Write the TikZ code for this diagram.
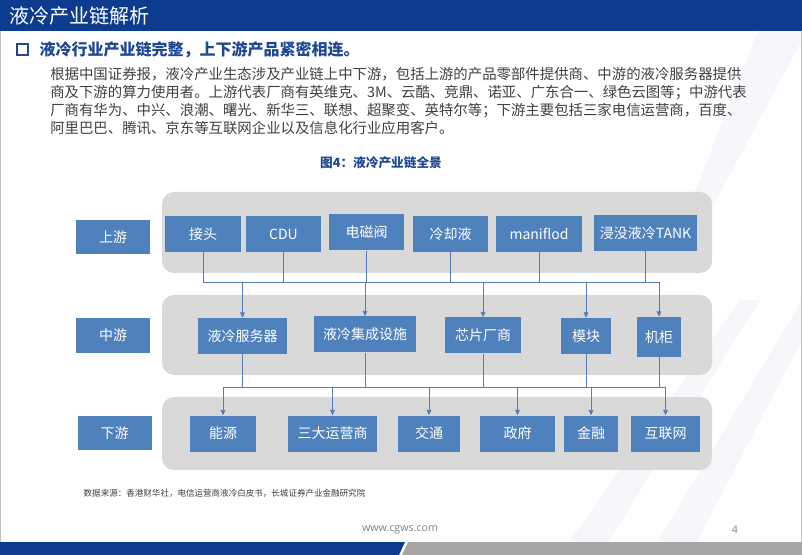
\documentclass[tikz,border=0pt]{standalone}
\usepackage{fontspec}
\setmainfont{Noto Sans CJK SC}
\newfontfamily\footfont{Open Sans}
\usetikzlibrary{arrows.meta}
\definecolor{titleblue}{RGB}{13,60,142}
\definecolor{subblue}{RGB}{30,72,150}
\definecolor{boxblue}{RGB}{79,129,189}
\definecolor{panelgray}{RGB}{217,217,217}
\definecolor{linkblue}{RGB}{84,122,190}
\definecolor{bandgray}{RGB}{246,247,251}
\definecolor{textgray}{RGB}{64,64,64}
\begin{document}
\begin{tikzpicture}[x=0.75pt,y=-0.75pt,
    box/.style={fill=boxblue, text=white, inner sep=0pt, minimum height=27pt,
      font=\fontsize{10.5}{12}\selectfont},
    tag/.style={box, minimum width=55.5pt, minimum height=26pt},
    panel/.style={fill=panelgray, rounded corners=9pt},
    link/.style={draw=linkblue, line width=0.6pt},
    feed/.style={link, -{Triangle[length=4pt,width=3.5pt]}}]
  \useasboundingbox (0,0) rectangle (802,555);
  %page
  \fill[white] (0,0) rectangle (802,555);
  \fill[bandgray] (770,0) -- (802,0) -- (802,40) -- (700,230) -- (680,230) -- cycle;
  \fill[bandgray] (802,300) -- (802,340) -- (690,555) -- (650,555) -- cycle;
  \fill[bandgray] (560,555) -- (600,555) -- (760,300) -- (740,300) -- cycle;
  \draw[gray!50, line width=0.6pt] (0.4,0) -- (0.4,555) (801.6,0) -- (801.6,555);
  %title bar
  \fill[titleblue] (0,0) rectangle (802,31);
  \node[anchor=west, text=white, font=\fontsize{15}{17}\selectfont] (title) at (5,16) {液冷产业链解析};
  \draw[subblue, line width=1.6pt] (17,44) rectangle (28,55);
  \node[anchor=west, text=subblue, font=\bfseries\fontsize{12}{14}\selectfont] (head) at (35,50)
    {液冷行业产业链完整，上下游产品紧密相连。};
  \node[anchor=north west, align=left, text=textgray, inner sep=0pt,
    font=\fontsize{10.8}{13.6}\selectfont] (para) at (50,67)
    {根据中国证券报，液冷产业生态涉及产业链上中下游，包括上游的产品零部件提供商、中游的液冷服务器提供\\
     商及下游的算力使用者。上游代表厂商有英维克、3M、云酷、竞鼎、诺亚、广东合一、绿色云图等；中游代表\\
     厂商有华为、中兴、浪潮、曙光、新华三、联想、超聚变、英特尔等；下游主要包括三家电信运营商，百度、\\
     阿里巴巴、腾讯、京东等互联网企业以及信息化行业应用客户。};
  \node[text=subblue, font=\bfseries\fontsize{9.5}{11}\selectfont] (cap) at (381,163) {图4：液冷产业链全景};
  %panels
  \fill[panel] (162,192) rectangle (712,273);
  \fill[panel] (162,295) rectangle (712,375);
  \fill[panel] (162,397) rectangle (712,470);
  %upstream
  \node[tag] (up) at (113,237) {上游};
  \node[box, minimum width=57pt] (jietou) at (203,234) {接头};
  \node[box, minimum width=56.25pt] (cdu) at (283.5,234) {CDU};
  \node[box, minimum width=56.25pt] (dcf) at (366.5,232.5) {电磁阀};
  \node[box, minimum width=56.25pt] (ljy) at (450.5,234) {冷却液};
  \node[box, minimum width=64.5pt] (manifold) at (539,234) {maniflod};
  \node[box, minimum width=77.25pt] (tank) at (645.5,233) {浸没液冷TANK};
  %midstream
  \node[tag] (mid) at (113,335.5) {中游};
  \node[box, minimum width=66.75pt] (fwq) at (242.5,336) {液冷服务器};
  \node[box, minimum width=76.5pt] (jcss) at (365,334.5) {液冷集成设施};
  \node[box, minimum width=57pt] (xpcs) at (483,335.5) {芯片厂商};
  \node[box, minimum width=37.5pt] (mk) at (586,336) {模块};
  \node[box, minimum width=33pt, minimum height=30pt] (jg) at (659,337) {机柜};
  %downstream
  \node[tag] (down) at (114.5,433) {下游};
  \node[box, minimum width=49.5pt] (ny) at (223,433.5) {能源};
  \node[box, minimum width=66.75pt] (yys) at (332.5,433.5) {三大运营商};
  \node[box, minimum width=46.5pt] (jt) at (429,433.5) {交通};
  \node[box, minimum width=56.25pt] (zf) at (517.5,433.5) {政府};
  \node[box, minimum width=40.5pt] (jr) at (591,433.5) {金融};
  \node[box, minimum width=51.75pt] (hlw) at (665.5,433.5) {互联网};
  %buses
  \coordinate (busU) at (0,282);
  \coordinate (busD) at (0,387);
  \draw[link] (jietou |- busU) -- (jg |- busU);
  \foreach \n in {jietou,cdu,dcf,ljy,manifold,tank}
      \draw[link] (\n.south) -- (\n |- busU);
  \foreach \n in {fwq,jcss,xpcs,mk,jg}
      \draw[feed] (\n |- busU) -- (\n.north);
  \draw[link] (ny |- busD) -- (hlw |- busD);
  \foreach \n in {fwq,jcss,xpcs,mk,jg}
      \draw[link] (\n.south) -- (\n |- busD);
  \foreach \n in {ny,yys,jt,zf,jr,hlw}
      \draw[feed] (\n |- busD) -- (\n.north);
  %source and footer
  \node[anchor=west, text=textgray, font=\fontsize{6.4}{7.5}\selectfont] (src) at (79,493)
    {数据来源：香港财华社，电信运营商液冷白皮书，长城证券产业金融研究院};
  \node[text=gray, font=\footfont\fontsize{8}{9}\selectfont] (url) at (400,530) {www.cgws.com};
  \node[text=gray, font=\footfont\fontsize{8}{9}\selectfont] (page) at (735,530) {4};
  \fill[titleblue] (0,542) -- (405,542) -- (399,555) -- (0,555) -- cycle;
  \fill[gray!70] (408,542) -- (802,542) -- (802,555) -- (402,555) -- cycle;
\end{tikzpicture}
\end{document}
